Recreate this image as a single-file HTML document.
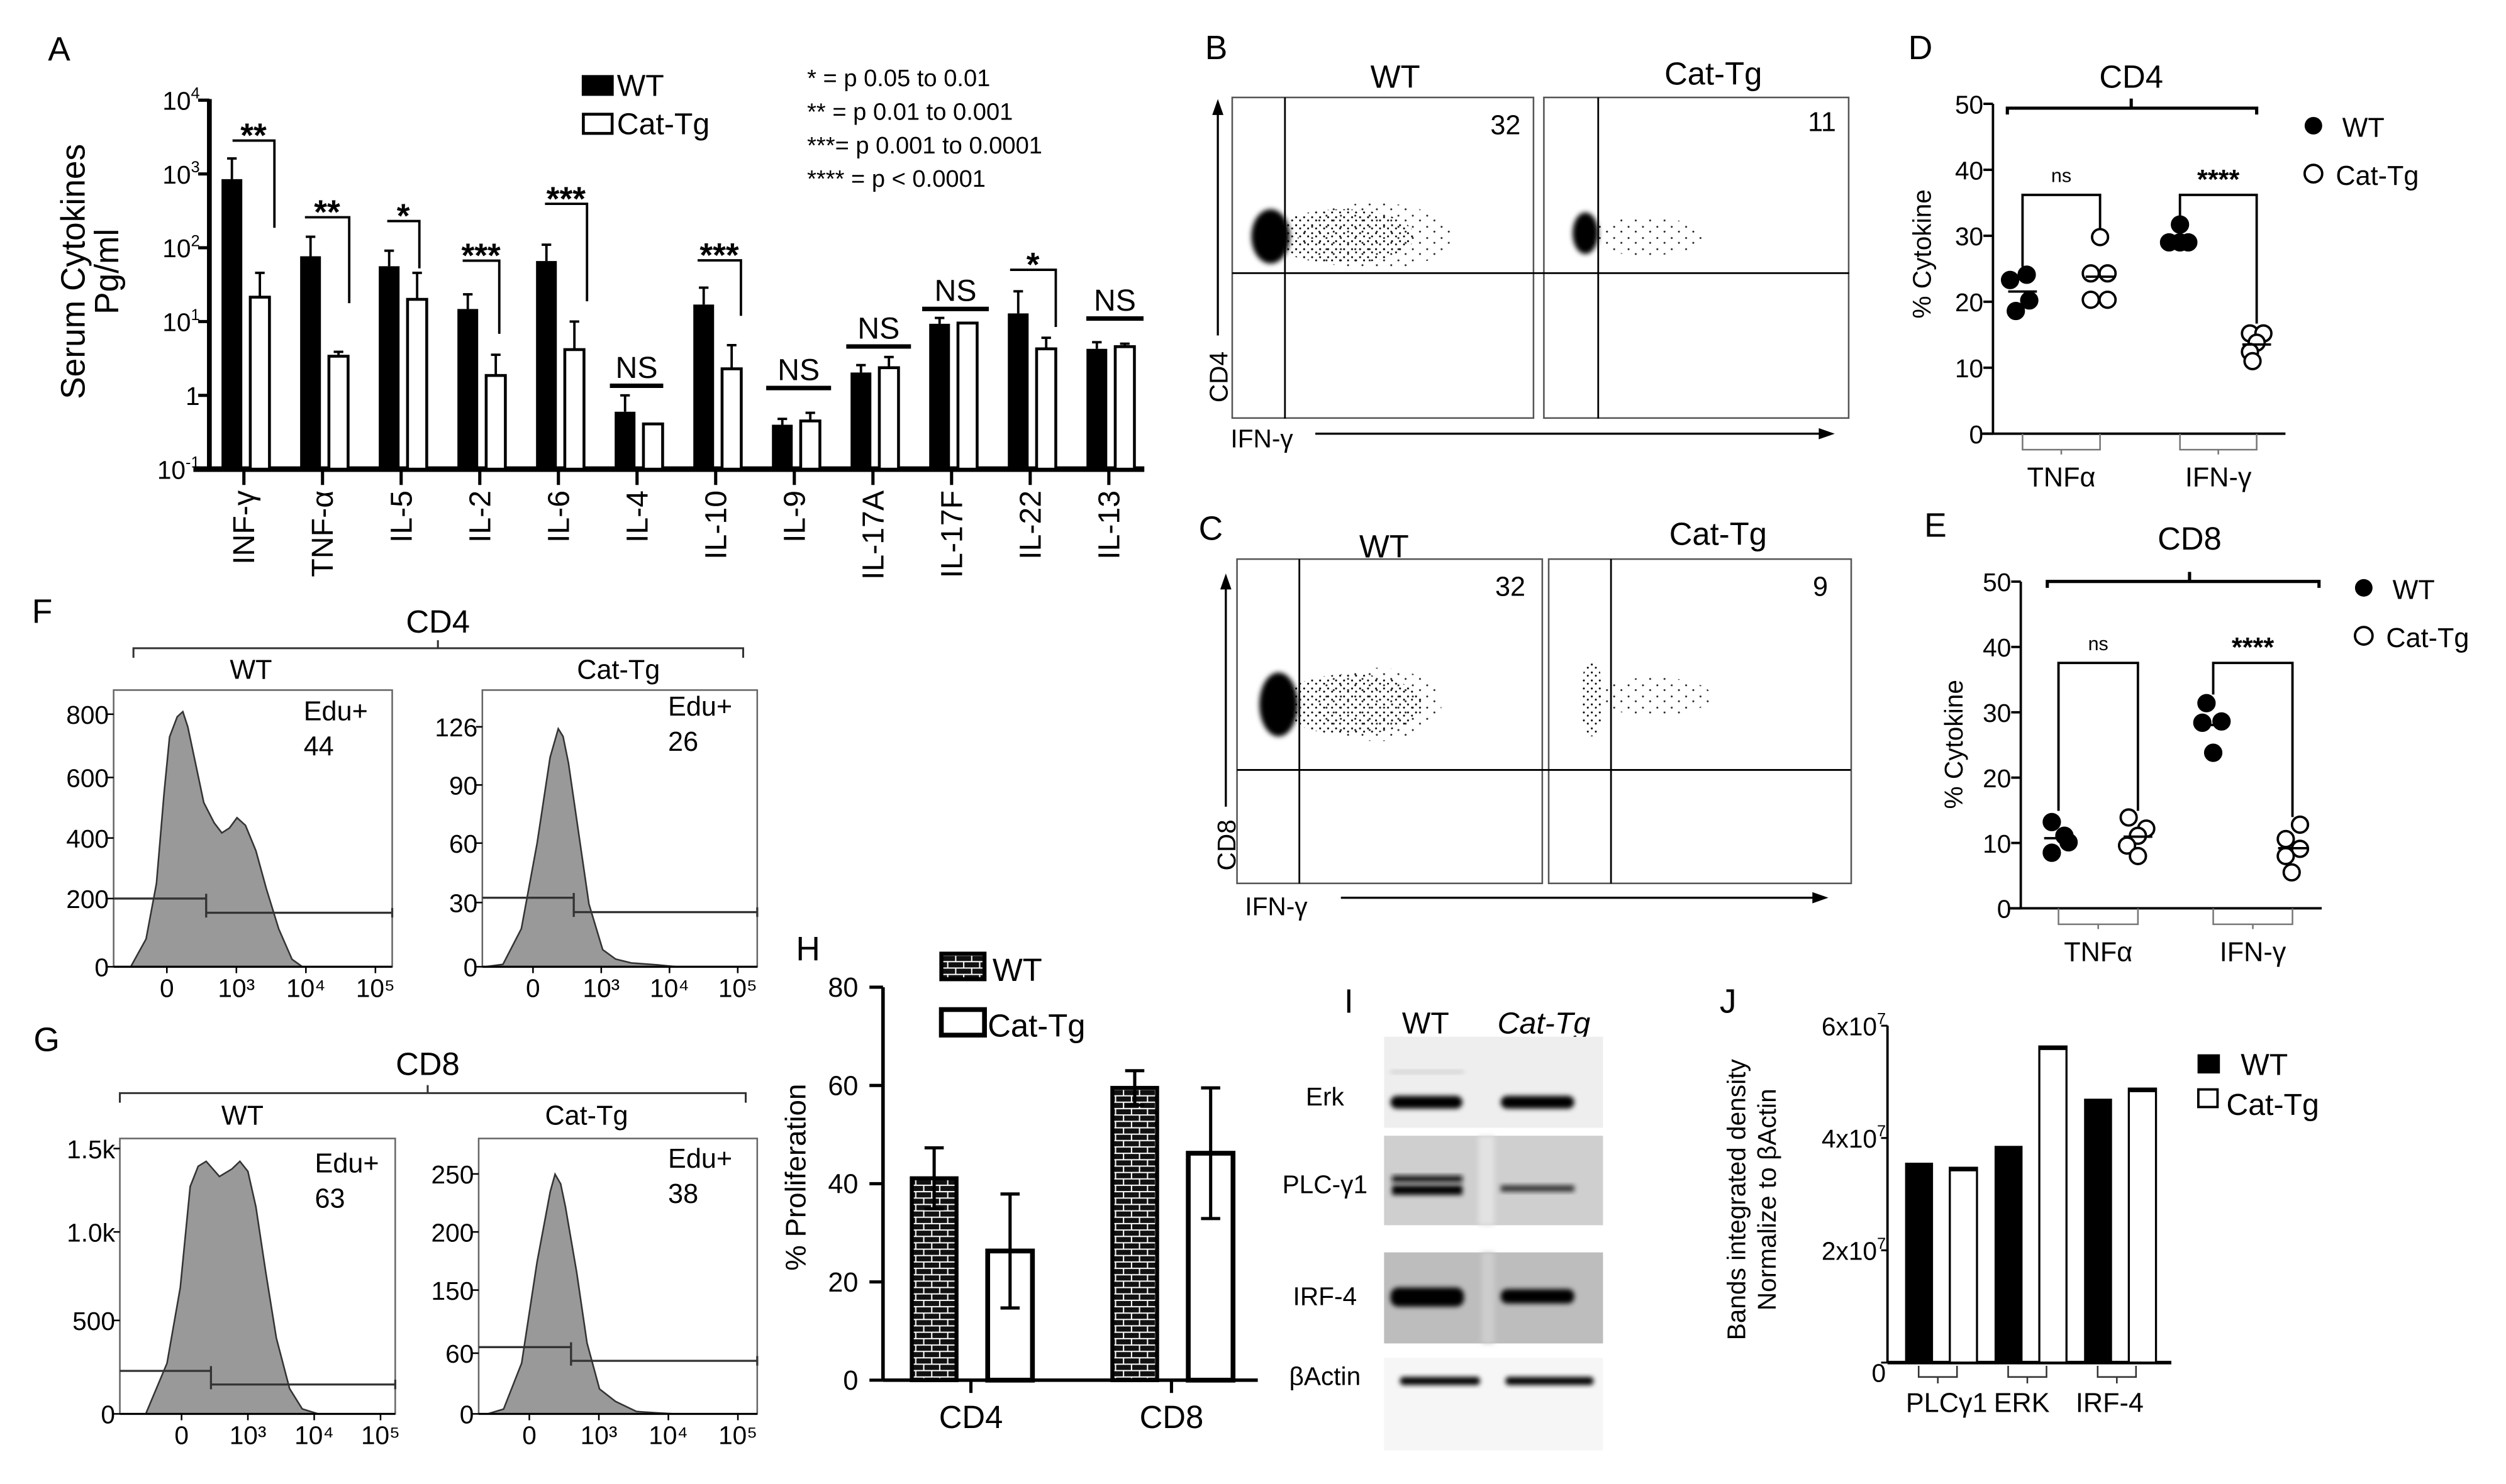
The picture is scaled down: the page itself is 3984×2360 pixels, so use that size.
<!DOCTYPE html>
<html><head><meta charset="utf-8">
<style>
html,body{margin:0;padding:0;background:#fff;}
svg{display:block;font-family:"Liberation Sans",sans-serif;}
text{fill:#000;}
</style></head>
<body>
<svg id="fig" xmlns="http://www.w3.org/2000/svg" width="3984" height="2360" viewBox="0 0 1568 929" preserveAspectRatio="none">
<defs>
<pattern id="stipDense" width="3" height="3" patternUnits="userSpaceOnUse"><circle cx="1" cy="1" r="0.7" fill="#000"/></pattern>
<pattern id="stipMed" width="5" height="5" patternUnits="userSpaceOnUse"><circle cx="1" cy="1" r="0.6" fill="#000"/><circle cx="3.5" cy="3" r="0.6" fill="#000"/></pattern>
<pattern id="stipSparse" width="9" height="7" patternUnits="userSpaceOnUse"><circle cx="2" cy="2" r="0.6" fill="#222"/><circle cx="6.5" cy="5" r="0.6" fill="#222"/></pattern>
<pattern id="brick" width="10" height="8" patternUnits="userSpaceOnUse"><rect width="10" height="8" fill="#111"/><line x1="0" y1="2" x2="10" y2="2" stroke="#fff" stroke-width="0.8"/><line x1="0" y1="6" x2="10" y2="6" stroke="#fff" stroke-width="0.8"/><line x1="3" y1="2" x2="3" y2="6" stroke="#fff" stroke-width="0.8"/><line x1="8" y1="6" x2="8" y2="8" stroke="#fff" stroke-width="0.8"/><line x1="8" y1="0" x2="8" y2="2" stroke="#fff" stroke-width="0.8"/></pattern>
<filter id="blur1" x="-50%" y="-50%" width="200%" height="200%"><feGaussianBlur stdDeviation="1.6"/></filter>
<filter id="blur2" x="-50%" y="-50%" width="200%" height="200%"><feGaussianBlur stdDeviation="3"/></filter>
</defs>

<text x="30" y="38" font-size="21">A</text>
<text x="754" y="37" font-size="21">B</text>
<text x="750" y="338" font-size="21">C</text>
<text x="1194" y="37" font-size="21">D</text>
<text x="1204" y="336" font-size="21">E</text>
<text x="20" y="390" font-size="21">F</text>
<text x="21" y="658" font-size="21">G</text>
<text x="498" y="601" font-size="21">H</text>
<text x="841" y="634" font-size="21">I</text>
<text x="1076" y="634" font-size="21">J</text>

<g id="panelA">
<text transform="translate(53,170) rotate(-90)" text-anchor="middle" font-size="21">Serum Cytokines</text>
<text transform="translate(74,170) rotate(-90)" text-anchor="middle" font-size="21">Pg/ml</text>
<rect x="364" y="47" width="20" height="13" fill="#000"/>
<text x="386" y="60" font-size="19">WT</text>
<rect x="365" y="71.5" width="18" height="12" fill="#fff" stroke="#000" stroke-width="1.8"/>
<text x="386" y="84" font-size="19">Cat-Tg</text>
<text x="505" y="54" font-size="15">* = p 0.05 to 0.01</text>
<text x="505" y="75" font-size="15">** = p 0.01 to 0.001</text>
<text x="505" y="96" font-size="15">***= p 0.001 to 0.0001</text>
<text x="505" y="117" font-size="15">**** = p &lt; 0.0001</text>
</g>

<g>
<text x="873" y="55" text-anchor="middle" font-size="20">WT</text>
<text x="1072" y="53" text-anchor="middle" font-size="20">Cat-Tg</text>
<ellipse cx="860" cy="148" rx="48" ry="21" fill="url(#stipSparse)"/>
<ellipse cx="840" cy="148" rx="45" ry="17" fill="url(#stipMed)"/>
<ellipse cx="795" cy="148" rx="12" ry="17" fill="#000" filter="url(#blur1)"/>
<ellipse cx="1030" cy="148" rx="36" ry="12" fill="url(#stipSparse)"/>
<ellipse cx="992" cy="146" rx="8" ry="13" fill="#000" filter="url(#blur1)"/>
<rect x="771" y="61" width="188.5" height="200.7" fill="none" stroke="#555" stroke-width="1"/>
<rect x="966" y="61" width="190.7" height="200.7" fill="none" stroke="#555" stroke-width="1"/>
<line x1="804" y1="61" x2="804" y2="262" stroke="#000" stroke-width="1.1"/>
<line x1="1000" y1="61" x2="1000" y2="262" stroke="#000" stroke-width="1.1"/>
<line x1="771" y1="171" x2="1157" y2="171" stroke="#000" stroke-width="1.1"/>
<text x="942" y="84" text-anchor="middle" font-size="17">32</text>
<text x="1140" y="82" text-anchor="middle" font-size="17">11</text>
<line x1="762" y1="210" x2="762" y2="70" stroke="#000" stroke-width="1.3"/>
<polygon points="762,62 758.5,72 765.5,72" fill="#000"/>
<text transform="translate(768,236) rotate(-90)" text-anchor="middle" font-size="16">CD4</text>
<text x="770" y="280" font-size="16">IFN-γ</text>
<line x1="823" y1="271.5" x2="1140" y2="271.5" stroke="#000" stroke-width="1.3"/>
<polygon points="1148,271.5 1138,268 1138,275" fill="#000"/>
</g>
<g>
<text x="866" y="349" text-anchor="middle" font-size="20">WT</text>
<text x="1075" y="341" text-anchor="middle" font-size="20">Cat-Tg</text>
<ellipse cx="862" cy="441" rx="40" ry="23" fill="url(#stipSparse)"/>
<ellipse cx="845" cy="441" rx="45" ry="19" fill="url(#stipMed)"/>
<ellipse cx="800" cy="441" rx="12" ry="20" fill="#000" filter="url(#blur1)"/>
<ellipse cx="1035" cy="436" rx="36" ry="12" fill="url(#stipSparse)"/>
<ellipse cx="996" cy="437" rx="7" ry="24" fill="url(#stipMed)"/>
<rect x="774" y="350" width="191" height="203" fill="none" stroke="#555" stroke-width="1"/>
<rect x="969" y="350" width="189.3" height="203" fill="none" stroke="#555" stroke-width="1"/>
<line x1="813" y1="350" x2="813" y2="553" stroke="#000" stroke-width="1.1"/>
<line x1="1008" y1="350" x2="1008" y2="553" stroke="#000" stroke-width="1.1"/>
<line x1="774" y1="482" x2="1158" y2="482" stroke="#000" stroke-width="1.1"/>
<text x="945" y="373" text-anchor="middle" font-size="17">32</text>
<text x="1139" y="373" text-anchor="middle" font-size="17">9</text>
<line x1="767" y1="505" x2="767" y2="367" stroke="#000" stroke-width="1.3"/>
<polygon points="767,359 763.5,369 770.5,369" fill="#000"/>
<text transform="translate(773,529) rotate(-90)" text-anchor="middle" font-size="16">CD8</text>
<text x="779" y="573" font-size="16">IFN-γ</text>
<line x1="839" y1="562" x2="1136" y2="562" stroke="#000" stroke-width="1.3"/>
<polygon points="1144,562 1134,558.5 1134,565.5" fill="#000"/>
</g>

<g>
<text x="892" y="647" text-anchor="middle" font-size="19">WT</text>
<text x="966" y="647" text-anchor="middle" font-size="19" font-style="italic">Cat-Tg</text>
<rect x="866" y="649" width="137" height="57" fill="#eeeeee"/>
<rect x="866" y="711" width="137" height="56" fill="#cfcfcf"/>
<rect x="866" y="784" width="137" height="57" fill="#bdbdbd"/>
<rect x="866" y="850" width="137" height="58" fill="#f6f6f6"/>
<rect x="925" y="711" width="10" height="56" fill="#e2e2e2" filter="url(#blur1)"/>
<rect x="927" y="784" width="8" height="57" fill="#cdcdcd" filter="url(#blur1)"/>
<rect x="870" y="670" width="46" height="2" fill="#ccc" filter="url(#blur1)"/>
<rect x="870" y="686" width="45" height="8" rx="4" fill="#000" filter="url(#blur1)"/>
<rect x="939" y="686" width="46" height="8" rx="4" fill="#000" filter="url(#blur1)"/>
<rect x="871" y="736" width="44" height="4" fill="#111" filter="url(#blur1)"/>
<rect x="871" y="742" width="44" height="6" fill="#000" filter="url(#blur1)"/>
<rect x="939" y="742" width="46" height="4" fill="#333" filter="url(#blur1)"/>
<rect x="870" y="806" width="46" height="12" rx="5" fill="#000" filter="url(#blur1)"/>
<rect x="939" y="807" width="46" height="9" rx="4" fill="#000" filter="url(#blur1)"/>
<rect x="876" y="862" width="50" height="5" rx="2" fill="#000" filter="url(#blur1)"/>
<rect x="942" y="862" width="55" height="5" rx="2" fill="#000" filter="url(#blur1)"/>
<text x="829" y="692" text-anchor="middle" font-size="16">Erk</text>
<text x="829" y="747" text-anchor="middle" font-size="16">PLC-γ1</text>
<text x="829" y="817" text-anchor="middle" font-size="16">IRF-4</text>
<text x="829" y="867" text-anchor="middle" font-size="16">βActin</text>
</g>
</svg>

<script>
// ---------- Panel A data ----------
const aCategories = ['INF-γ','TNF-α','IL-5','IL-2','IL-6','IL-4','IL-10','IL-9','IL-17A','IL-17F','IL-22','IL-13'];
const aWT = [851, 76.7, 56.2, 14.8, 66.1, 0.60, 17.0, 0.40, 2.04, 9.33, 12.9, 4.27];
const aCat = [21.4, 3.39, 20.0, 1.86, 4.17, 0.41, 2.29, 0.45, 2.37, 9.55, 4.27, 4.57];
const aWTErrTop = [1622, 141, 91.2, 23.4, 110, 1.0, 28.8, 0.48, 2.57, 11.2, 25.7, 5.25];
const aCatErrTop = [45.7, 3.89, 45.7, 3.55, 10.0, 0.41, 4.79, 0.58, 3.31, 9.55, 6.03, 5.01];
const aSig = ['**','**','*','***','***','NS','***','NS','NS','NS','*','NS'];
const aTickExp = [-1, 0, 1, 2, 3, 4];

// ---------- Panel D/E data ----------
const dCategories = ['TNFα','IFN-γ'];
const dWT_TNF = [24.1, 23.3, 20.2, 18.6];
const dCat_TNF = [29.8, 24.3, 24.3, 20.3, 20.3];
const dWT_IFN = [31.7, 29.0, 29.0, 29.0];
const dCat_IFN = [15.2, 15.2, 13.8, 12.4, 11.0];
const eWT_TNF = [13.2, 11.1, 10.1, 8.5];
const eCat_TNF = [13.9, 12.2, 11.1, 9.6, 8.0];
const eWT_IFN = [31.4, 28.6, 28.4, 23.8];
const eCat_IFN = [12.8, 10.6, 9.1, 8.0, 5.5];
const deTicks = [0, 10, 20, 30, 40, 50];

// ---------- Histogram data ----------
const fWT_u = [-0.62,-0.52,-0.30,-0.15,-0.04,0.04,0.15,0.23,0.30,0.41,0.53,0.68,0.79,0.90,1.01,1.13,1.28,1.43,1.61,1.80,1.95,2.1];
const fWT_count = [0,0,88,264,552,728,792,808,760,648,520,456,424,440,472,448,368,248,120,24,0,0];
const fCat_u = [-0.7,-0.44,-0.17,0.06,0.25,0.37,0.44,0.52,0.67,0.82,1.02,1.21,1.44,1.82,2.1];
const fCat_count = [0,1.3,20,65,110,125,121,107,70,33,9,4,2,1,0];
const gWT_u = [-0.7,-0.54,-0.22,-0.02,0.13,0.25,0.37,0.57,0.76,0.88,1.00,1.12,1.27,1.43,1.63,1.82,2.06];
const gWT_count = [0,0,286,714,1284,1399,1427,1341,1384,1427,1370,1171,800,429,143,28,0];
const gCat_u = [-0.6,-0.37,-0.11,0.11,0.30,0.37,0.45,0.52,0.68,0.83,1.01,1.24,1.54,1.84,2.1];
const gCat_count = [0,5,53,158,232,250,240,216,148,74,26,13,2.5,1,0];
const histXTicks = ['0','10³','10⁴','10⁵'];

// ---------- Panel H data ----------
const hCategories = ['CD4','CD8'];
const hWT = [41.1, 59.5];
const hWTErr = [6.2, 3.5];
const hCat = [26.3, 46.2];
const hCatErr = [11.6, 13.3];
const hTicks = [0, 20, 40, 60, 80];

// ---------- Panel J data (x10^7) ----------
const jCategories = ['PLCγ1','ERK','IRF-4'];
const jWT = [3.56, 3.86, 4.70];
const jCat = [3.47, 5.63, 4.88];
const jTicks = [0, 2, 4, 6];

const NS='http://www.w3.org/2000/svg';
const svg=document.getElementById('fig');
function mk(tag, attrs, parent){const e=document.createElementNS(NS,tag);for(const k in attrs)e.setAttribute(k,attrs[k]);(parent||svg).appendChild(e);return e;}
function line(x1,y1,x2,y2,w){return mk('line',{x1,y1,x2,y2,stroke:'#000','stroke-width':w||1});}
function txt(x,y,s,size,extra){const t=mk('text',Object.assign({x,y,'font-size':size},extra||{}));t.textContent=s;return t;}

// ================= Panel A =================
const yA = v => 293.7 - (Math.log10(v) + 1) * 46.2;
const xA = i => 152.6 + i * 49.2;
let e;
e = line(131,62,131,294,3);


e = line(121,293.7,716,293.7,3.5);


aTickExp.forEach(p=>{
  const y = yA(Math.pow(10,p));
  const t = line(124,y,131,y,2);
  
  
  const lab = mk('text',{x:125,y:y+6,'font-size':16,'text-anchor':'end'});
  
  
  if(p===0){lab.textContent='1';}
  else{lab.textContent='10';const s=mk('tspan',{dy:-7,'font-size':10},lab);s.textContent=String(p);}
});
aCategories.forEach((c,i)=>{
  const cx = xA(i);
  const t = line(cx,293.7,cx,303.6,2);
  
  
  const lab = txt(cx+6.5,307,c,19,{'text-anchor':'end',transform:`rotate(-90 ${cx+6.5} 307)`});
  
  
  const yw = yA(aWT[i]);
  const ew = line(cx-7.5,yA(aWTErrTop[i]),cx-7.5,yw,1.5);
  
  
  const cw = line(cx-10.5,yA(aWTErrTop[i]),cx-4.5,yA(aWTErrTop[i]),1.5);
  
  
  const bw = mk('rect',{x:cx-14,y:yw,width:13,height:293.7-yw,fill:'#000'});
  
  
  const yc = yA(aCat[i]);
  if(aCatErrTop[i] > aCat[i]*1.01){
    const ec = line(cx+10,yA(aCatErrTop[i]),cx+10,yc,1.5);
    
    
    const cc = line(cx+7,yA(aCatErrTop[i]),cx+13,yA(aCatErrTop[i]),1.5);
    
    
  }
  const bc = mk('rect',{x:cx+4,y:yc,width:12,height:293.7-yc,fill:'#fff',stroke:'#000','stroke-width':1.8});
  
  
});
const aSigLayout = [[88,145.5,171.7,142.6],[136,190.8,218.5,189.8],[138.4,242.3,262.4,168],[163.2,289.5,312.4,209],[127.6,341,367.3,188.6],[241.5,381.6,415,null],[163,436.5,463.6,197.7],[242.9,479.4,520,null],[216.9,529.5,570,null],[193.4,577,618.7,null],[168.9,632,660.6,204.7],[199.4,679.7,715.5,null]];
aSigLayout.forEach((L,i)=>{
  const [y,x1,x2,dy]=L;
  if(dy===null){
    const l=line(x1,y,x2,y,2.8);
    
    
    const t=txt((x1+x2)/2,y-5,aSig[i],19,{'text-anchor':'middle'});
    
    
  } else {
    const p=mk('polyline',{points:`${x1},${y} ${x2},${y} ${x2},${dy}`,fill:'none',stroke:'#000','stroke-width':1.5});
    
    
    const t=txt((x1+x2)/2,y+4,aSig[i],21,{'text-anchor':'middle','font-weight':'bold'});
    
    
  }
});

// ================= Panels D / E =================
function dotPanel(cfg){
  const y = v => cfg.y0 - v*cfg.k;
  let el = line(cfg.ax, y(50), cfg.ax, cfg.y0, 1.5);
  
  
  el = line(cfg.ax-8, cfg.y0, cfg.xEnd, cfg.y0, 1.5);
  
  
  deTicks.forEach(t=>{
    const tk=line(cfg.ax-6,y(t),cfg.ax,y(t),1.5);
    
    
    const lb=txt(cfg.ax-6,y(t)+6,String(t),16,{'text-anchor':'end'});
    
    
  });
  const yt=txt(0,0,'% Cytokine',16,{'text-anchor':'middle',transform:`translate(${cfg.titleX},${cfg.titleY}) rotate(-90)`});
  
  
  cfg.series.forEach(s=>{
    s.vals.forEach((v,j)=>{
      const c=mk('circle',{cx:s.x+s.jit[j],cy:y(v),r:5,fill:s.open?'#fff':'#000',stroke:'#000','stroke-width':1.5});
      
      
    });
    const m=s.vals.reduce((a,b)=>a+b,0)/s.vals.length;
    const ml=line(s.x-9,y(m),s.x+9,y(m),1.5);
    
    
  });
  cfg.brackets.forEach(b=>{
    const p=mk('polyline',{points:`${b.x1},${b.d1} ${b.x1},${b.y} ${b.x2},${b.y} ${b.x2},${b.d2}`,fill:'none',stroke:'#000','stroke-width':1.5});
    
    
    const t=txt((b.x1+b.x2)/2,b.y-(b.label==='ns'?8:4),b.label,b.label==='ns'?12:17,{'text-anchor':'middle','font-weight':b.label==='ns'?'normal':'bold'});
    
    
  });
  const tb=mk('path',{d:`M${cfg.top.x1},${cfg.top.y+4} L${cfg.top.x1},${cfg.top.y} L${cfg.top.x2},${cfg.top.y} L${cfg.top.x2},${cfg.top.y+4} M${cfg.top.xc},${cfg.top.y} L${cfg.top.xc},${cfg.top.y-6}`,fill:'none',stroke:'#000','stroke-width':2});
  
  
  const tt=txt(cfg.top.xc,cfg.top.ty,cfg.top.label,20,{'text-anchor':'middle'});
  
  
  dCategories.forEach((c,i)=>{
    const x1=cfg.under[i][0], x2=cfg.under[i][1];
    const ub=mk('path',{d:`M${x1},${cfg.y0} L${x1},${cfg.y0+10} L${x2},${cfg.y0+10} L${x2},${cfg.y0} M${(x1+x2)/2},${cfg.y0+10} L${(x1+x2)/2},${cfg.y0+13}`,fill:'none',stroke:'#777','stroke-width':1});
    
    
    const cl=txt((x1+x2)/2,cfg.y0+33,c,17,{'text-anchor':'middle'});
    
    
  });
  const l1=mk('circle',{cx:cfg.leg.x,cy:cfg.leg.y,r:5.5,fill:'#000'});
  
  
  const lt1=txt(cfg.leg.x+18,cfg.leg.y+7,'WT',17);
  
  
  const l2=mk('circle',{cx:cfg.leg.x,cy:cfg.leg.y+30,r:5.5,fill:'#fff',stroke:'#000','stroke-width':1.5});
  
  
  const lt2=txt(cfg.leg.x+14,cfg.leg.y+37,'Cat-Tg',17);
  
  
}
dotPanel({p:'d',ax:1247,y0:271.5,k:4.13,xEnd:1430,titleX:1208,titleY:159,
  series:[{name:'wt-tnfa',x:1265.5,vals:dWT_TNF,jit:[2.6,-7.8,4.2,-4.2]},{name:'cattg-tnfa',x:1314,vals:dCat_TNF,jit:[0,-5.8,4.7,-5.8,4.7],open:true},
          {name:'wt-ifng',x:1364,vals:dWT_IFN,jit:[0,-6.8,0,5.2]},{name:'cattg-ifng',x:1412,vals:dCat_IFN,jit:[-4.2,4.2,0,-4.2,-2.6],open:true}],
  brackets:[{x1:1265.5,x2:1314,y:122,d1:167,d2:143.6,label:'ns'},{x1:1364,x2:1412,y:122,d1:135.8,d2:202.6,label:'****'}],
  top:{x1:1256,x2:1412,y:67.7,xc:1333.5,ty:55,label:'CD4'},
  under:[[1265.5,1314],[1364,1412]],
  leg:{x:1447.5,y:78.7}});
dotPanel({p:'e',ax:1264.4,y0:568.6,k:4.09,xEnd:1452.7,titleX:1228,titleY:466,
  series:[{name:'wt-tnfa',x:1288,vals:eWT_TNF,jit:[-4.2,3.7,6.3,-4.2]},{name:'cattg-tnfa',x:1337.7,vals:eCat_TNF,jit:[-5.8,5.2,0,-6.8,0],open:true},
          {name:'wt-ifng',x:1384.8,vals:eWT_IFN,jit:[-4.2,5.2,-6.8,0]},{name:'cattg-ifng',x:1434.4,vals:eCat_IFN,jit:[4.7,-4.2,4.7,-4.2,-0.5],open:true}],
  brackets:[{x1:1288,x2:1337.7,y:415,d1:507.6,d2:507.6,label:'ns'},{x1:1384.8,x2:1434.4,y:415,d1:434.8,d2:511.5,label:'****'}],
  top:{x1:1281,x2:1451,y:364,xc:1370,ty:344,label:'CD8'},
  under:[[1288,1337.7],[1384.8,1434.4]],
  leg:{x:1479,y:368}});

// ================= Histograms F / G =================
function hist(cfg){
  const X = u => cfg.x0 + u*cfg.ux;
  const Y = c => cfg.base - c*cfg.cy;
  let pts = cfg.u.map((u,i)=>`${X(u).toFixed(1)},${Y(cfg.c[i]).toFixed(1)}`);
  const p = mk('polygon',{points:pts.join(' '),fill:'#999',stroke:'#333','stroke-width':1});
  
  
  const b = mk('rect',{x:cfg.bx1,y:cfg.top,width:cfg.bx2-cfg.bx1,height:cfg.base-cfg.top,fill:'none',stroke:'#666','stroke-width':1});
  
  
  const ax = line(cfg.bx1,cfg.base,cfg.bx2,cfg.base,1.3);
  
  
  cfg.yt.forEach(t=>{
    const tk=line(cfg.bx1-4,t[1],cfg.bx1,t[1],1);
    
    
    const lb=txt(cfg.bx1-3,t[1]+6,t[0],16,{'text-anchor':'end'});
    
    
  });
  histXTicks.forEach((s,i)=>{
    const tk=line(X(i),cfg.base,X(i),cfg.base+4,1);
    
    
    const lb=txt(X(i),cfg.base+19,s,16,{'text-anchor':'middle'});
    
    
  });
  const g=mk('path',{d:`M${cfg.bx1},${cfg.g1} L${cfg.gx},${cfg.g1} M${cfg.gx},${cfg.g1-3} L${cfg.gx},${cfg.g2+3} M${cfg.gx},${cfg.g2} L${cfg.bx2},${cfg.g2} M${cfg.bx2},${cfg.g2-3} L${cfg.bx2},${cfg.g2+3}`,fill:'none',stroke:'#333','stroke-width':1.3});
  
  
  const e1=txt(cfg.ex,cfg.ey,'Edu+',17);
  
  
  const e2=txt(cfg.ex,cfg.ey+22,cfg.pct,17);
  
  
}
hist({p:'f-wt',u:fWT_u,c:fWT_count,x0:104.4,ux:43.5,base:605.2,cy:0.1976,bx1:71.1,bx2:245.4,top:432,
  yt:[['0',605.2],['200',562.5],['400',524.6],['600',486.7],['800',447.1]],g1:562.5,g2:571.4,gx:129,ex:190,ey:451,pct:'44'});
hist({p:'f-cattg',u:fCat_u,c:fCat_count,x0:333.5,ux:42.7,base:605.2,cy:1.192,bx1:301.8,bx2:473.8,top:432,
  yt:[['0',605.2],['30',565],['60',527.8],['90',491.4],['126',455]],g1:562,g2:571,gx:359,ex:418,ey:448,pct:'26'});
hist({p:'g-wt',u:gWT_u,c:gWT_count,x0:113.6,ux:41.5,base:885.1,cy:0.1108,bx1:75,bx2:247.3,top:712.7,
  yt:[['0',885.1],['500',826.6],['1.0k',771.2],['1.5k',719]],g1:858.2,g2:866.7,gx:132,ex:197,ey:734,pct:'63'});
hist({p:'g-cattg',u:gCat_u,c:gCat_count,x0:331.2,ux:43.5,base:885.1,cy:0.6,bx1:299.5,bx2:473.8,top:712.7,
  yt:[['0',885.1],['60',847.1],['150',807.6],['200',771.2],['250',734.9]],g1:843.3,g2:851.9,gx:357.3,ex:418,ey:731,pct:'38'});
[[274,396,405.8,83.5,465,'CD4','f',157,387,425],[267.6,673,684.3,75,466.6,'CD8','g',151.7,367,704]].forEach(h=>{
  const [xc,ty,by,x1,x2,lab,p,wx,cx,ly]=h;
  const t=txt(xc,ty,lab,20,{'text-anchor':'middle'});
  
  
  const b=mk('path',{d:`M${x1},${by+6} L${x1},${by} L${x2},${by} L${x2},${by+6} M${xc},${by} L${xc},${by-5}`,fill:'none',stroke:'#333','stroke-width':1.2});
  
  
  const w=txt(wx,ly,'WT',17,{'text-anchor':'middle'});
  
  
  const c=txt(cx,ly,'Cat-Tg',17,{'text-anchor':'middle'});
  
  
});

// ================= Panel H =================
const yH = v => 864 - v*3.075;
const xH = i => 607.5 + i*125.5;
e = line(552.5,yH(80),552.5,864,2.2);


e = line(552.5,864,787,864,2.2);


hTicks.forEach(t=>{
  const tk=line(544,yH(t),552.5,yH(t),2);
  
  
  const lb=txt(537,yH(t)+6,String(t),17,{'text-anchor':'end'});
  
  
});
e = txt(0,0,'% Proliferation',18,{'text-anchor':'middle',transform:'translate(504,737) rotate(-90)'});


hCategories.forEach((c,i)=>{
  const cx=xH(i);
  const tk=line(cx,864,cx,872,2);
  
  
  const lb=txt(cx,894,c,20,{'text-anchor':'middle'});
  
  
  const bw=mk('rect',{x:cx-37,y:yH(hWT[i]),width:28,height:864-yH(hWT[i]),fill:'url(#brick)',stroke:'#000','stroke-width':2.5});
  
  
  const bc=mk('rect',{x:cx+10.5,y:yH(hCat[i]),width:28,height:864-yH(hCat[i]),fill:'#fff',stroke:'#000','stroke-width':3});
  
  
  [[cx-23,hWT[i],hWTErr[i],'wt'],[cx+24.5,hCat[i],hCatErr[i],'cattg']].forEach(s=>{
    const [x,v,err,n]=s;
    const eb=mk('path',{d:`M${x},${yH(v+err)} L${x},${yH(v-err)} M${x-6},${yH(v+err)} L${x+6},${yH(v+err)} M${x-6},${yH(v-err)} L${x+6},${yH(v-err)}`,fill:'none',stroke:'#000','stroke-width':2});
    
    
  });
});
e = mk('rect',{x:589,y:597,width:27,height:16,fill:'url(#brick)',stroke:'#000','stroke-width':2.5});


e = txt(621,614,'WT',20);


e = mk('rect',{x:589,y:632,width:27,height:16,fill:'#fff',stroke:'#000','stroke-width':3});


e = txt(618,649,'Cat-Tg',20);



// ================= Panel J =================
const yJ = v => 853 - v*35.15;
const xJ = i => 1214.5 + i*56;
e = line(1181,yJ(6),1181,853,1.5);


e = line(1181,853,1358.6,853,2.2);


jTicks.forEach(t=>{
  const tk=line(1177,yJ(t),1181,yJ(t),1.2);
  
  
  const lb=mk('text',{x:1180,y:yJ(t)+(t===0?12:6),'font-size':16,'text-anchor':'end'});
  
  
  if(t===0){lb.textContent='0';}
  else{lb.textContent=t+'x10';const s=mk('tspan',{dy:-7,'font-size':10},lb);s.textContent='7';}
});
e = txt(0,0,'Bands integrated density',16,{'text-anchor':'middle',transform:'translate(1092,751) rotate(-90)'});


e = txt(0,0,'Normalize to βActin',16,{'text-anchor':'middle',transform:'translate(1111,751) rotate(-90)'});


jCategories.forEach((c,i)=>{
  const cx=xJ(i);
  const bw=mk('rect',{x:cx-22.5,y:yJ(jWT[i]),width:17.5,height:853-yJ(jWT[i]),fill:'#000'});
  
  
  const bc=mk('rect',{x:cx+5.5,y:yJ(jCat[i]),width:17,height:853-yJ(jCat[i]),fill:'#fff',stroke:'#000','stroke-width':1.3});
  
  
  const cap=line(cx+5.5,yJ(jCat[i])+1,cx+22.5,yJ(jCat[i])+1,2.5);
  
  
  const ub=mk('path',{d:`M${cx-14},855 L${cx-14},862 L${cx+10},862 L${cx+10},855 M${cx-2},862 L${cx-2},866`,fill:'none',stroke:'#333','stroke-width':1});
  
  
});
[[1218,'PLCγ1'],[1265,'ERK'],[1320,'IRF-4']].forEach(l=>{
  const t=txt(l[0],884,l[1],17,{'text-anchor':'middle'});
  
  
});
e = mk('rect',{x:1375,y:660,width:14,height:12,fill:'#000'});


e = txt(1402,673,'WT',19);


e = mk('rect',{x:1375.5,y:682,width:12,height:11,fill:'#fff',stroke:'#000','stroke-width':1.5});


e = txt(1393,698,'Cat-Tg',19);


</script>
</body></html>
